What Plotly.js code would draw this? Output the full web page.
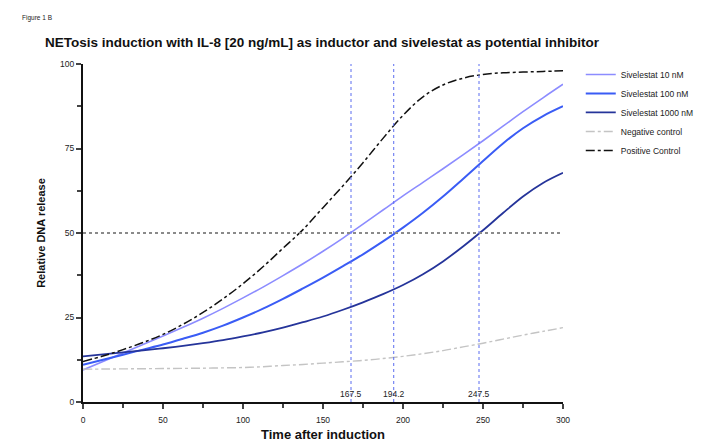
<!DOCTYPE html>
<html>
<head>
<meta charset="utf-8">
<script src="https://cdn.plot.ly/plotly-3.0.1.min.js"></script>
<style>html,body{margin:0;padding:0;background:#fff;}#chart{width:719px;height:446px;}</style>
</head>
<body>
<div id="chart"></div>
<script>
const timePoints = [0, 12.5, 25, 37.5, 50, 62.5, 75, 87.5, 100, 112.5, 125, 137.5, 150, 162.5, 175, 187.5, 200, 212.5, 225, 237.5, 250, 262.5, 275, 287.5, 300];
const sivelestat10 = [9.5, 12, 14.5, 17, 19.5, 22.1, 24.8, 27.7, 30.8, 34, 37.4, 40.9, 44.6, 48.5, 52.6, 56.8, 61, 65, 69, 73.1, 77.3, 81.6, 85.9, 90, 94];
const sivelestat100 = [11, 12.5, 14, 15.5, 17, 18.7, 20.5, 22.6, 25, 27.6, 30.5, 33.6, 36.8, 40.2, 43.7, 47.5, 51.6, 56, 60.8, 66, 71.3, 76.5, 81, 84.6, 87.5];
const sivelestat1000 = [13.5, 14.1, 14.7, 15.3, 15.9, 16.6, 17.4, 18.3, 19.4, 20.6, 22, 23.6, 25.3, 27.3, 29.5, 31.9, 34.6, 37.8, 41.6, 46, 50.8, 55.9, 60.8, 64.8, 67.8];
const negativeControl = [9.7, 9.75, 9.8, 9.85, 9.9, 9.95, 10, 10.1, 10.2, 10.45, 10.8, 11.1, 11.5, 11.9, 12.3, 12.85, 13.5, 14.3, 15.2, 16.3, 17.4, 18.6, 19.8, 20.9, 22];
const positiveControl = [12, 13.6, 15.5, 17.6, 20, 23, 26.5, 30.5, 35, 40, 45.5, 51, 57.5, 64, 70.8, 78, 84.8, 90.3, 93.8, 95.8, 96.9, 97.4, 97.6, 97.8, 98];
const halfTimes = [167.5, 194.2, 247.5];
const halfLevel = 50;
const seriesNames = ["Sivelestat 10 nM", "Sivelestat 100 nM", "Sivelestat 1000 nM", "Negative control", "Positive Control"];

const FONT = "Liberation Sans, Arial, sans-serif";
const styles = [
  {color: "#8c8cff", width: 1.6, dash: "solid"},
  {color: "#3a5cf5", width: 2, dash: "solid"},
  {color: "#25349a", width: 1.8, dash: "solid"},
  {color: "#c4c4c4", width: 1.4, dash: "dashdot"},
  {color: "#111111", width: 1.5, dash: "dashdot"}
];
const allSeries = [sivelestat10, sivelestat100, sivelestat1000, negativeControl, positiveControl];
const traces = allSeries.map((ys, i) => ({
  x: timePoints, y: ys, type: "scatter", mode: "lines", name: seriesNames[i],
  line: {color: styles[i].color, width: styles[i].width, dash: styles[i].dash, shape: "spline", smoothing: 1}
}));

const shapes = [{
  type: "line", xref: "x", yref: "y", x0: 0, x1: 300, y0: halfLevel, y1: halfLevel,
  line: {color: "#8a8a8a", width: 2, dash: "dot"}
}];
const annotations = [];
halfTimes.forEach(t => {
  shapes.push({type: "line", xref: "x", yref: "y", x0: t, x1: t, y0: 0, y1: 100,
    line: {color: "#5a6cf0", width: 1, dash: "dot"}});
  annotations.push({x: t, xref: "x", y: 0, yref: "paper", yanchor: "bottom", yshift: 1,
    text: String(t), showarrow: false, font: {family: FONT, size: 8.5, color: "#222"}});
});
annotations.push({x: (20 - 83) / 480, y: (402 - 18) / 338, xref: "paper", yref: "paper", xanchor: "left", yanchor: "middle",
  showarrow: false, text: "Figure 1 B", font: {family: FONT, size: 6.5, color: "#222"}});

const layout = {
  width: 719, height: 446,
  margin: {l: 83, r: 156, t: 64, b: 44},
  paper_bgcolor: "#fff", plot_bgcolor: "#fff",
  font: {family: FONT, size: 8.5, color: "#222"},
  title: {text: "<b>NETosis induction with IL-8 [20 ng/mL] as inductor and sivelestat as potential inhibitor</b>",
    x: 45 / 719, xanchor: "left", xref: "container", y: 1 - 42 / 446, yanchor: "middle", yref: "container",
    font: {family: FONT, size: 13.5, color: "#111"}},
  xaxis: {range: [0, 300], tickvals: [0, 50, 100, 150, 200, 250, 300], ticks: "outside", ticklen: 5, tickwidth: 1.5,
    ticklabelstandoff: 4,
    showline: true, linecolor: "#111", linewidth: 2, showgrid: false, zeroline: false,
    minor: {tickvals: [25, 75, 125, 175, 225, 275], ticks: "outside", ticklen: 4, tickwidth: 1.5, showgrid: false},
    tickfont: {family: FONT, size: 8.5, color: "#222"},
    title: {text: "<b>Time after induction</b>", font: {family: FONT, size: 13, color: "#111"}, standoff: 6}},
  yaxis: {range: [0, 100], tickvals: [0, 25, 50, 75, 100], ticks: "outside", ticklen: 5, tickwidth: 1.5,
    showline: true, linecolor: "#111", linewidth: 2, showgrid: false, zeroline: false,
    minor: {tickvals: [12.5, 37.5, 62.5, 87.5], ticks: "outside", ticklen: 4, tickwidth: 1.5, showgrid: false},
    tickfont: {family: FONT, size: 8.5, color: "#222"},
    title: {text: "<b>Relative DNA release</b>", font: {family: FONT, size: 11, color: "#111"}, standoff: 12}},
  legend: {x: 1.037, xanchor: "left", y: 1.012, yanchor: "top", font: {family: FONT, size: 8.5, color: "#222"},
    itemwidth: 30, tracegroupgap: 0, bgcolor: "rgba(0,0,0,0)"},
  shapes: shapes,
  annotations: annotations
};
Plotly.newPlot("chart", traces, layout, {displayModeBar: false});
</script>
</body>
</html>
